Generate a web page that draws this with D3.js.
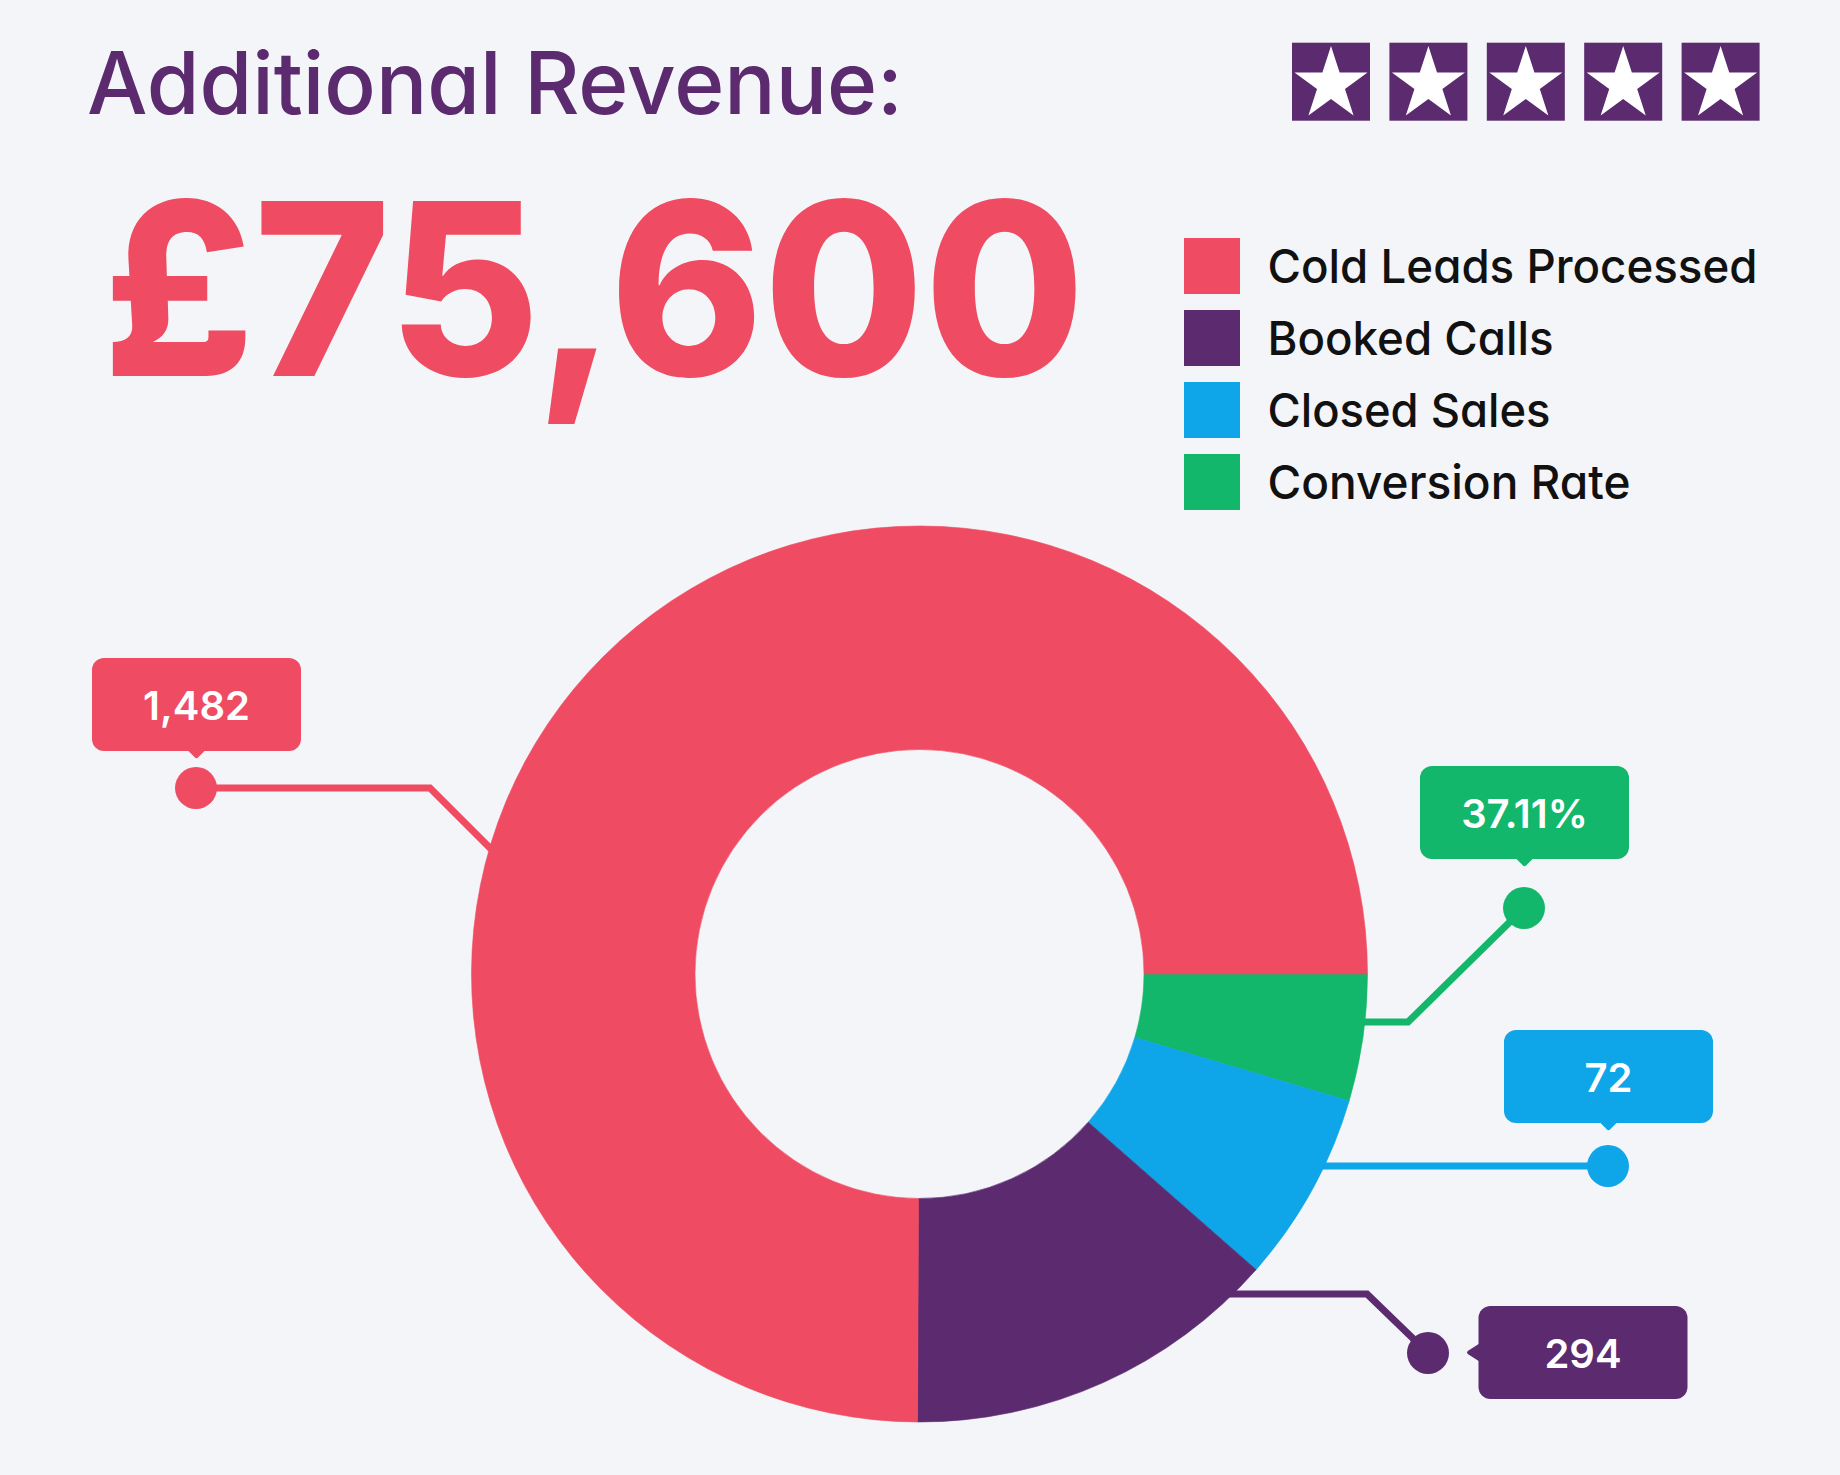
<!DOCTYPE html>
<html><head><meta charset="utf-8">
<script src="https://cdn.jsdelivr.net/npm/d3@7"></script>
<style>
html,body{margin:0;padding:0;background:#F4F5F9;}
svg{display:block;font-family:Inter,"Noto Sans",sans-serif;font-feature-settings:"cv11" 1;}
</style></head><body>
<svg id="chart" width="1840" height="1475"></svg>
<script>
// ---------- data ----------
const titleText = "Additional Revenue:";
const headlineText = "£75,600";
const starRating = 5;
const categories = ["Cold Leads Processed", "Booked Calls", "Closed Sales", "Conversion Rate"];
const valueLabels = ["1,482", "294", "72", "37.11%"];
// share of the ring each slice takes (in %)
const sliceShares = [74.93, 13.6, 6.9, 4.57];
const colors = ["#EF4B62", "#5B2A6F", "#0EA5E9", "#13B76B"];

// ---------- layout ----------
const W = 1840, H = 1475;
const center = {x: 919.5, y: 974};
const outerR = 448, innerR = 224.5;
const purple = "#5B2A6F";
// annotation layout (leader lines & callouts), per category
const annLayout = [
  {dot: [196, 788], elbow: [430, 788], dir: [1, 1], box: [196.5, 704.5], ptr: "bottom"},
  {dot: [1428, 1353], elbow: [1367, 1294], dir: [-1, 0], box: [1583, 1352.5], ptr: "left"},
  {dot: [1608, 1166], elbow: [1608, 1166], dir: [-1, 0], box: [1608.5, 1076.5], ptr: "bottom"},
  {dot: [1524, 908], elbow: [1408, 1022], dir: [-1, 0], box: [1524.5, 812.5], ptr: "bottom"}
];

const svg = d3.select("#chart");
svg.append("rect").attr("width", W).attr("height", H).attr("fill", "#F4F5F9");

// title
svg.append("text").attr("x", 87).attr("y", 114)
  .attr("font-size", 86).attr("font-weight", 500).attr("fill", purple)
  .attr("textLength", 816).attr("lengthAdjust", "spacingAndGlyphs")
  .text(titleText);

// headline number
svg.append("text").attr("x", 103).attr("y", 376)
  .attr("font-size", 241).attr("font-weight", 800).attr("fill", colors[0])
  .attr("textLength", 982).attr("lengthAdjust", "spacingAndGlyphs")
  .text(headlineText);

// stars
const starX = d3.scaleLinear().domain([0, 4]).range([1292, 1681.6]);
const starPts = d3.range(10).map(i => {
  const a = i * Math.PI / 5, r = i % 2 === 0 ? 38.4 : 14.7;
  return [r * Math.sin(a), -r * Math.cos(a)];
});
const stars = svg.append("g").selectAll("g").data(d3.range(starRating)).join("g")
  .attr("transform", d => `translate(${starX(d)},42.7)`);
stars.append("rect").attr("width", 78).attr("height", 78).attr("fill", purple);
stars.append("path").attr("d", "M" + starPts.map(p => [p[0] + 39, p[1] + 41.7].join(",")).join("L") + "Z")
  .attr("fill", "#fff");

// legend
const legY = d3.scaleLinear().domain([0, 3]).range([238, 454]);
const legLens = [490, 286, 283, 363];
const leg = svg.append("g").selectAll("g").data(categories).join("g")
  .attr("transform", (d, i) => `translate(1184,${legY(i)})`);
leg.append("rect").attr("width", 56).attr("height", 56).attr("fill", (d, i) => colors[i]);
leg.append("text").attr("x", 83.5).attr("y", 44.7)
  .attr("font-size", 47).attr("font-weight", 500).attr("fill", "#111")
  .attr("textLength", (d, i) => legLens[i]).attr("lengthAdjust", "spacingAndGlyphs")
  .text(d => d);

// pie
const rows = categories.map((c, i) => ({cat: c, share: sliceShares[i], label: valueLabels[i], color: colors[i], ann: annLayout[i]}));
const pie = d3.pie().value(d => d.share).sort(null)
  .startAngle(Math.PI / 2).endAngle(Math.PI / 2 + 2 * Math.PI);
const arcs = pie(rows.slice().reverse());
const arc = d3.arc().innerRadius(innerR).outerRadius(outerR);

// leader lines (under the ring)
const midR = (innerR + outerR) / 2;
function ringPoint(ann) {
  const ex = ann.elbow[0] - center.x, ey = ann.elbow[1] - center.y;
  const len = Math.hypot(ann.dir[0], ann.dir[1]);
  const dx = ann.dir[0] / len, dy = ann.dir[1] / len;
  const b = ex * dx + ey * dy, c = ex * ex + ey * ey - midR * midR;
  const t = -b - Math.sqrt(b * b - c);
  return [ann.elbow[0] + t * dx, ann.elbow[1] + t * dy];
}
const lines = svg.append("g");
rows.forEach(r => {
  const p = ringPoint(r.ann);
  lines.append("path")
    .attr("d", d3.line()([r.ann.dot, r.ann.elbow, p]))
    .attr("fill", "none").attr("stroke", r.color).attr("stroke-width", 7)
    .attr("stroke-linejoin", "miter");
});

svg.append("g").attr("transform", `translate(${center.x},${center.y})`)
  .selectAll("path").data(arcs).join("path")
  .attr("d", arc).attr("fill", d => d.data.color)
  .attr("stroke", d => d.data.color).attr("stroke-width", 0.6);

// dots and callouts
const bw = 209, bh = 93;
const ann = svg.append("g");
rows.forEach(r => {
  const a = r.ann;
  ann.append("circle").attr("cx", a.dot[0]).attr("cy", a.dot[1]).attr("r", 21).attr("fill", r.color);
  const x0 = a.box[0] - bw / 2, y0 = a.box[1] - bh / 2;
  ann.append("rect").attr("x", x0).attr("y", y0).attr("width", bw).attr("height", bh)
    .attr("rx", 12).attr("fill", r.color);
  let ptr;
  if (a.ptr === "bottom") {
    const cx = a.box[0], by = y0 + bh - 1;
    ptr = `M${cx - 9},${by} L${cx - 2},${by + 7} Q${cx},${by + 9.5} ${cx + 2},${by + 7} L${cx + 9},${by} Z`;
  } else {
    const cy = a.box[1], bx = x0 + 1;
    ptr = `M${bx},${cy - 9} L${bx - 11},${cy - 2} Q${bx - 14},${cy} ${bx - 11},${cy + 2} L${bx},${cy + 9} Z`;
  }
  ann.append("path").attr("d", ptr).attr("fill", r.color);
  ann.append("text").attr("x", a.box[0]).attr("y", a.box[1] + 15)
    .attr("text-anchor", "middle").attr("font-size", 40).attr("font-weight", 600)
    .attr("fill", "#fff").text(r.label);
});
</script>
</body></html>
